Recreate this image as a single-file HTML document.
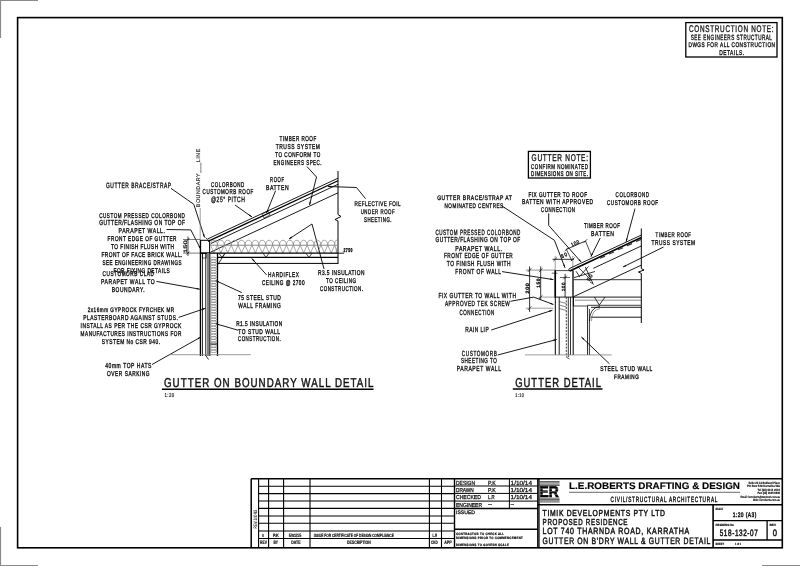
<!DOCTYPE html>
<html><head><meta charset="utf-8"><style>
html,body{margin:0;padding:0;background:#fff;width:800px;height:566px;overflow:hidden;}
svg{display:block;filter:grayscale(1);text-rendering:geometricPrecision;font-family:"Liberation Sans",sans-serif;}
</style></head><body>
<svg width="800" height="566" viewBox="0 0 800 566" stroke-linecap="butt">
<line x1="0.00" y1="0.50" x2="38.00" y2="0.50" stroke="#8a8a8a" stroke-width="1.2"/>
<line x1="0.50" y1="0.00" x2="0.50" y2="38.00" stroke="#8a8a8a" stroke-width="1.2"/>
<line x1="0.50" y1="527.00" x2="0.50" y2="566.00" stroke="#8a8a8a" stroke-width="1.2"/>
<line x1="0.00" y1="565.50" x2="38.00" y2="565.50" stroke="#8a8a8a" stroke-width="1.2"/>
<line x1="762.00" y1="565.50" x2="800.00" y2="565.50" stroke="#8a8a8a" stroke-width="1.2"/>
<rect x="17.60" y="17.60" width="764.70" height="530.20" stroke="#000" stroke-width="1.6" fill="none"/>
<rect x="685.80" y="22.60" width="91.20" height="34.40" stroke="#000" stroke-width="1.3" fill="none"/>
<text transform="translate(689.00,31.50) scale(0.15952,0.24092)" x="0" y="0" font-size="40.0" font-weight="normal" fill="#1a1a1a" stroke="#1a1a1a" stroke-width="1.660" textLength="529.71" lengthAdjust="spacing" font-family="Liberation Sans">CONSTRUCTION NOTE:</text>
<text transform="translate(690.70,39.70) scale(0.11509,0.18855)" x="0" y="0" font-size="40.0" font-weight="normal" fill="#1a1a1a" stroke="#1a1a1a" stroke-width="2.121" textLength="705.56" lengthAdjust="spacing" font-family="Liberation Sans">SEE ENGINEERS STRUCTURAL</text>
<text transform="translate(688.50,47.30) scale(0.11773,0.16760)" x="0" y="0" font-size="40.0" font-weight="normal" fill="#1a1a1a" stroke="#1a1a1a" stroke-width="2.387" textLength="734.76" lengthAdjust="spacing" font-family="Liberation Sans">DWGS FOR ALL CONSTRUCTION</text>
<text transform="translate(719.20,55.00) scale(0.12197,0.17458)" x="0" y="0" font-size="40.0" font-weight="normal" fill="#1a1a1a" stroke="#1a1a1a" stroke-width="2.291" textLength="203.33" lengthAdjust="spacing" font-family="Liberation Sans">DETAILS.</text>
<line x1="251.20" y1="478.80" x2="782.50" y2="478.80" stroke="#000" stroke-width="1.5"/>
<line x1="251.20" y1="478.80" x2="251.20" y2="547.80" stroke="#000" stroke-width="1.5"/>
<line x1="258.60" y1="478.80" x2="258.60" y2="547.80" stroke="#000" stroke-width="1.1"/>
<line x1="268.60" y1="478.80" x2="268.60" y2="547.80" stroke="#000" stroke-width="1.1"/>
<line x1="283.60" y1="478.80" x2="283.60" y2="547.80" stroke="#000" stroke-width="1.1"/>
<line x1="310.00" y1="478.80" x2="310.00" y2="547.80" stroke="#000" stroke-width="1.1"/>
<line x1="429.40" y1="478.80" x2="429.40" y2="547.80" stroke="#000" stroke-width="1.1"/>
<line x1="441.50" y1="478.80" x2="441.50" y2="547.80" stroke="#000" stroke-width="1.1"/>
<line x1="454.50" y1="478.80" x2="454.50" y2="547.80" stroke="#000" stroke-width="1.4"/>
<line x1="258.60" y1="486.20" x2="454.50" y2="486.20" stroke="#000" stroke-width="1.1"/>
<line x1="258.60" y1="493.60" x2="454.50" y2="493.60" stroke="#000" stroke-width="1.1"/>
<line x1="258.60" y1="501.00" x2="454.50" y2="501.00" stroke="#000" stroke-width="1.1"/>
<line x1="258.60" y1="508.40" x2="454.50" y2="508.40" stroke="#000" stroke-width="1.1"/>
<line x1="258.60" y1="516.00" x2="454.50" y2="516.00" stroke="#000" stroke-width="1.1"/>
<line x1="258.60" y1="523.30" x2="454.50" y2="523.30" stroke="#000" stroke-width="1.1"/>
<line x1="258.60" y1="531.00" x2="454.50" y2="531.00" stroke="#000" stroke-width="1.1"/>
<line x1="258.60" y1="538.50" x2="454.50" y2="538.50" stroke="#000" stroke-width="1.1"/>
<text transform="translate(256.80,528.60) rotate(-90) scale(0.07422,0.12221)" x="0" y="0" font-size="40.0" font-weight="normal" fill="#333" stroke="#333" stroke-width="1.637" textLength="253.29" lengthAdjust="spacing" font-family="Liberation Sans">REVISIONS</text>
<text transform="translate(261.90,536.90) scale(0.07642,0.11522)" x="0" y="0" font-size="40.0" font-weight="bold" fill="#000" stroke="#000" stroke-width="1.302" textLength="22.25" lengthAdjust="spacing" font-family="Liberation Sans">0</text>
<text transform="translate(273.00,536.90) scale(0.09427,0.11522)" x="0" y="0" font-size="40.0" font-weight="bold" fill="#000" stroke="#000" stroke-width="1.302" textLength="61.52" lengthAdjust="spacing" font-family="Liberation Sans">P.K</text>
<text transform="translate(288.80,536.90) scale(0.09291,0.11522)" x="0" y="0" font-size="40.0" font-weight="bold" fill="#000" stroke="#000" stroke-width="1.302" textLength="133.46" lengthAdjust="spacing" font-family="Liberation Sans">5/01/15</text>
<text transform="translate(313.80,536.90) scale(0.08006,0.11522)" x="0" y="0" font-size="40.0" font-weight="bold" fill="#000" stroke="#000" stroke-width="1.302" textLength="999.30" lengthAdjust="spacing" font-family="Liberation Sans">ISSUE FOR CERTIFICATE OF DESIGN COMPLIANCE</text>
<text transform="translate(432.40,536.90) scale(0.07139,0.11522)" x="0" y="0" font-size="40.0" font-weight="bold" fill="#000" stroke="#000" stroke-width="1.302" textLength="64.43" lengthAdjust="spacing" font-family="Liberation Sans">L.R</text>
<text transform="translate(260.00,544.20) scale(0.08389,0.12570)" x="0" y="0" font-size="40.0" font-weight="bold" fill="#000" stroke="#000" stroke-width="1.193" textLength="82.25" lengthAdjust="spacing" font-family="Liberation Sans">REV</text>
<text transform="translate(273.50,544.20) scale(0.08098,0.12570)" x="0" y="0" font-size="40.0" font-weight="bold" fill="#000" stroke="#000" stroke-width="1.193" textLength="55.57" lengthAdjust="spacing" font-family="Liberation Sans">BY</text>
<text transform="translate(291.20,544.20) scale(0.08875,0.12570)" x="0" y="0" font-size="40.0" font-weight="bold" fill="#000" stroke="#000" stroke-width="1.193" textLength="105.92" lengthAdjust="spacing" font-family="Liberation Sans">DATE</text>
<text transform="translate(347.00,544.20) scale(0.08670,0.12570)" x="0" y="0" font-size="40.0" font-weight="bold" fill="#000" stroke="#000" stroke-width="1.193" textLength="273.36" lengthAdjust="spacing" font-family="Liberation Sans">DESCRIPTION</text>
<text transform="translate(431.00,544.20) scale(0.07731,0.12570)" x="0" y="0" font-size="40.0" font-weight="bold" fill="#000" stroke="#000" stroke-width="1.193" textLength="86.66" lengthAdjust="spacing" font-family="Liberation Sans">CKD</text>
<text transform="translate(444.20,544.20) scale(0.08997,0.12570)" x="0" y="0" font-size="40.0" font-weight="bold" fill="#000" stroke="#000" stroke-width="1.193" textLength="82.25" lengthAdjust="spacing" font-family="Liberation Sans">APP</text>
<line x1="454.50" y1="486.00" x2="537.90" y2="486.00" stroke="#000" stroke-width="1.0"/>
<line x1="454.50" y1="493.40" x2="537.90" y2="493.40" stroke="#000" stroke-width="1.0"/>
<line x1="454.50" y1="501.10" x2="537.90" y2="501.10" stroke="#000" stroke-width="1.0"/>
<line x1="454.50" y1="508.50" x2="537.90" y2="508.50" stroke="#000" stroke-width="1.4"/>
<line x1="454.50" y1="529.30" x2="537.90" y2="529.30" stroke="#000" stroke-width="1.4"/>
<line x1="509.40" y1="478.80" x2="509.40" y2="508.50" stroke="#000" stroke-width="1.0"/>
<line x1="537.90" y1="478.80" x2="537.90" y2="547.80" stroke="#000" stroke-width="1.6"/>
<line x1="539.20" y1="478.80" x2="539.20" y2="547.80" stroke="#000" stroke-width="0.9"/>
<text transform="translate(456.00,484.50) scale(0.12389,0.14665)" x="0" y="0" font-size="40.0" font-weight="normal" fill="#222" stroke="#222" stroke-width="2.046" textLength="153.36" lengthAdjust="spacing" font-family="Liberation Sans">DESIGN</text>
<text transform="translate(456.00,491.70) scale(0.11898,0.14316)" x="0" y="0" font-size="40.0" font-weight="normal" fill="#222" stroke="#222" stroke-width="2.096" textLength="149.61" lengthAdjust="spacing" font-family="Liberation Sans">DRAWN</text>
<text transform="translate(456.00,499.30) scale(0.12731,0.14316)" x="0" y="0" font-size="40.0" font-weight="normal" fill="#222" stroke="#222" stroke-width="2.096" textLength="195.59" lengthAdjust="spacing" font-family="Liberation Sans">CHECKED</text>
<text transform="translate(456.00,506.50) scale(0.12445,0.14316)" x="0" y="0" font-size="40.0" font-weight="normal" fill="#222" stroke="#222" stroke-width="2.096" textLength="208.93" lengthAdjust="spacing" font-family="Liberation Sans">ENGINEER</text>
<text transform="translate(488.00,484.50) scale(0.12981,0.14665)" x="0" y="0" font-size="40.0" font-weight="normal" fill="#222" stroke="#222" stroke-width="2.046" textLength="59.32" lengthAdjust="spacing" font-family="Liberation Sans">P.K</text>
<text transform="translate(488.00,491.70) scale(0.12981,0.14316)" x="0" y="0" font-size="40.0" font-weight="normal" fill="#222" stroke="#222" stroke-width="2.096" textLength="59.32" lengthAdjust="spacing" font-family="Liberation Sans">P.K</text>
<text transform="translate(488.00,499.30) scale(0.10764,0.14316)" x="0" y="0" font-size="40.0" font-weight="normal" fill="#222" stroke="#222" stroke-width="2.096" textLength="62.25" lengthAdjust="spacing" font-family="Liberation Sans">L.R</text>
<line x1="488.00" y1="504.50" x2="492.00" y2="504.50" stroke="#333" stroke-width="0.8"/>
<text transform="translate(510.60,484.50) scale(0.16035,0.14665)" x="0" y="0" font-size="40.0" font-weight="normal" fill="#222" stroke="#222" stroke-width="2.046" textLength="133.46" lengthAdjust="spacing" font-family="Liberation Sans">1/10/14</text>
<text transform="translate(510.60,491.70) scale(0.16035,0.14316)" x="0" y="0" font-size="40.0" font-weight="normal" fill="#222" stroke="#222" stroke-width="2.096" textLength="133.46" lengthAdjust="spacing" font-family="Liberation Sans">1/10/14</text>
<text transform="translate(510.60,499.30) scale(0.16035,0.14316)" x="0" y="0" font-size="40.0" font-weight="normal" fill="#222" stroke="#222" stroke-width="2.096" textLength="133.46" lengthAdjust="spacing" font-family="Liberation Sans">1/10/14</text>
<line x1="510.60" y1="504.50" x2="514.00" y2="504.50" stroke="#333" stroke-width="0.8"/>
<text transform="translate(456.00,513.90) scale(0.12758,0.12570)" x="0" y="0" font-size="40.0" font-weight="normal" fill="#222" stroke="#222" stroke-width="2.387" textLength="148.93" lengthAdjust="spacing" font-family="Liberation Sans">ISSUED</text>
<text transform="translate(456.00,534.70) scale(0.06992,0.08380)" x="0" y="0" font-size="40.0" font-weight="bold" fill="#000" stroke="#000" stroke-width="2.387" textLength="686.46" lengthAdjust="spacing" font-family="Liberation Sans">CONTRACTOR TO CHECK ALL</text>
<text transform="translate(456.00,538.50) scale(0.07001,0.08380)" x="0" y="0" font-size="40.0" font-weight="bold" fill="#000" stroke="#000" stroke-width="2.387" textLength="952.68" lengthAdjust="spacing" font-family="Liberation Sans">DIMENSIONS PRIOR TO COMMENCEMENT</text>
<text transform="translate(456.00,545.60) scale(0.06981,0.08380)" x="0" y="0" font-size="40.0" font-weight="bold" fill="#000" stroke="#000" stroke-width="2.387" textLength="756.34" lengthAdjust="spacing" font-family="Liberation Sans">DIMENSIONS TO GOVERN SCALE</text>
<line x1="539.50" y1="481.50" x2="559.60" y2="481.50" stroke="#222" stroke-width="0.7"/>
<line x1="539.50" y1="482.80" x2="559.60" y2="482.80" stroke="#222" stroke-width="0.7"/>
<line x1="539.50" y1="484.20" x2="559.60" y2="484.20" stroke="#222" stroke-width="0.7"/>
<line x1="539.50" y1="485.50" x2="559.60" y2="485.50" stroke="#222" stroke-width="0.7"/>
<line x1="539.50" y1="498.20" x2="559.60" y2="498.20" stroke="#222" stroke-width="0.7"/>
<line x1="539.50" y1="499.50" x2="559.60" y2="499.50" stroke="#222" stroke-width="0.7"/>
<line x1="539.50" y1="500.80" x2="559.60" y2="500.80" stroke="#222" stroke-width="0.7"/>
<line x1="539.50" y1="502.00" x2="559.60" y2="502.00" stroke="#222" stroke-width="0.7"/>
<text transform="translate(539.60,497.30) scale(0.34553,0.38408)" x="0" y="0" font-size="40.0" font-weight="bold" fill="#000" stroke="#000" stroke-width="1.823" textLength="55.57" lengthAdjust="spacing" font-family="Liberation Sans">ER</text>
<line x1="539.50" y1="489.00" x2="559.60" y2="489.00" stroke="#fff" stroke-width="0.35"/>
<line x1="539.50" y1="491.70" x2="559.60" y2="491.70" stroke="#fff" stroke-width="0.35"/>
<line x1="539.50" y1="494.40" x2="559.60" y2="494.40" stroke="#fff" stroke-width="0.35"/>
<text transform="translate(569.00,488.80) scale(0.24742,0.24092)" x="0" y="0" font-size="40.0" font-weight="bold" fill="#000" stroke="#000" stroke-width="0.623" textLength="691.13" lengthAdjust="spacing" font-family="Liberation Sans">L.E.ROBERTS DRAFTING &amp; DESIGN</text>
<line x1="569.00" y1="492.30" x2="740.00" y2="492.30" stroke="#444" stroke-width="0.8"/>
<text transform="translate(610.60,501.60) scale(0.11816,0.18855)" x="0" y="0" font-size="40.0" font-weight="normal" fill="#1a1a1a" stroke="#1a1a1a" stroke-width="2.387" textLength="903.84" lengthAdjust="spacing" font-family="Liberation Sans">CIVIL/STRUCTURAL ARCHITECTURAL</text>
<text transform="translate(748.40,483.70) scale(0.06374,0.08031)" x="0" y="0" font-size="40.0" font-weight="bold" fill="#000" stroke="#000" stroke-width="1.494" textLength="495.74" lengthAdjust="spacing" font-family="Liberation Sans">Suite 2b 13 Redland Place</text>
<text transform="translate(747.00,487.10) scale(0.06969,0.08031)" x="0" y="0" font-size="40.0" font-weight="bold" fill="#000" stroke="#000" stroke-width="1.494" textLength="473.50" lengthAdjust="spacing" font-family="Liberation Sans">PO Box 528 Karratha WA</text>
<text transform="translate(757.50,490.70) scale(0.06671,0.08031)" x="0" y="0" font-size="40.0" font-weight="bold" fill="#000" stroke="#000" stroke-width="1.494" textLength="337.27" lengthAdjust="spacing" font-family="Liberation Sans">Tel (08) 9144 2004</text>
<text transform="translate(757.50,494.10) scale(0.06404,0.08031)" x="0" y="0" font-size="40.0" font-weight="bold" fill="#000" stroke="#000" stroke-width="1.494" textLength="351.37" lengthAdjust="spacing" font-family="Liberation Sans">Fax (08) 9185 6896</text>
<text transform="translate(740.50,497.70) scale(0.06012,0.08031)" x="0" y="0" font-size="40.0" font-weight="bold" fill="#000" stroke="#000" stroke-width="1.494" textLength="656.97" lengthAdjust="spacing" font-family="Liberation Sans">Email: lerroberts@westnet.com.au</text>
<text transform="translate(753.00,501.40) scale(0.06053,0.08031)" x="0" y="0" font-size="40.0" font-weight="bold" fill="#000" stroke="#000" stroke-width="1.494" textLength="446.04" lengthAdjust="spacing" font-family="Liberation Sans">Web: lerroberts.com.au</text>
<line x1="537.90" y1="504.70" x2="782.50" y2="504.70" stroke="#000" stroke-width="1.5"/>
<text transform="translate(542.60,515.80) scale(0.17002,0.21648)" x="0" y="0" font-size="40.0" font-weight="normal" fill="#111" stroke="#111" stroke-width="2.079" textLength="719.35" lengthAdjust="spacing" font-family="Liberation Sans">TIMIK DEVELOPMENTS PTY LTD</text>
<text transform="translate(542.60,524.80) scale(0.15495,0.21648)" x="0" y="0" font-size="40.0" font-weight="normal" fill="#111" stroke="#111" stroke-width="2.079" textLength="547.92" lengthAdjust="spacing" font-family="Liberation Sans">PROPOSED RESIDENCE</text>
<text transform="translate(542.60,534.00) scale(0.17506,0.22346)" x="0" y="0" font-size="40.0" font-weight="normal" fill="#111" stroke="#111" stroke-width="2.014" textLength="837.44" lengthAdjust="spacing" font-family="Liberation Sans">LOT 740 THARNDA ROAD, KARRATHA</text>
<text transform="translate(542.60,543.80) scale(0.17127,0.23045)" x="0" y="0" font-size="40.0" font-weight="normal" fill="#111" stroke="#111" stroke-width="1.953" textLength="979.75" lengthAdjust="spacing" font-family="Liberation Sans">GUTTER ON B'DRY WALL &amp; GUTTER DETAIL</text>
<line x1="713.10" y1="504.70" x2="713.10" y2="547.80" stroke="#000" stroke-width="1.6"/>
<line x1="713.10" y1="520.60" x2="782.50" y2="520.60" stroke="#000" stroke-width="1.4"/>
<line x1="713.10" y1="540.00" x2="782.50" y2="540.00" stroke="#000" stroke-width="1.4"/>
<line x1="767.10" y1="520.60" x2="767.10" y2="540.00" stroke="#000" stroke-width="1.3"/>
<text transform="translate(715.50,509.80) scale(0.05532,0.08031)" x="0" y="0" font-size="40.0" font-weight="bold" fill="#000" stroke="#000" stroke-width="1.868" textLength="135.57" lengthAdjust="spacing" font-family="Liberation Sans">SCALE</text>
<text transform="translate(732.80,516.90) scale(0.12283,0.16411)" x="0" y="0" font-size="40.0" font-weight="normal" fill="#111" stroke="#111" stroke-width="2.742" textLength="191.32" lengthAdjust="spacing" font-family="Liberation Sans">1:20 (A3)</text>
<text transform="translate(715.50,525.50) scale(0.07177,0.08031)" x="0" y="0" font-size="40.0" font-weight="bold" fill="#000" stroke="#000" stroke-width="1.868" textLength="257.75" lengthAdjust="spacing" font-family="Liberation Sans">DRAWING No</text>
<text transform="translate(719.70,535.60) scale(0.16014,0.23045)" x="0" y="0" font-size="40.0" font-weight="normal" fill="#111" stroke="#111" stroke-width="2.170" textLength="237.92" lengthAdjust="spacing" font-family="Liberation Sans">518-132-07</text>
<text transform="translate(769.50,525.50) scale(0.07903,0.08031)" x="0" y="0" font-size="40.0" font-weight="bold" fill="#000" stroke="#000" stroke-width="1.868" textLength="82.25" lengthAdjust="spacing" font-family="Liberation Sans">REV</text>
<text transform="translate(772.80,535.60) scale(0.18880,0.23045)" x="0" y="0" font-size="40.0" font-weight="normal" fill="#111" stroke="#111" stroke-width="2.170" textLength="22.25" lengthAdjust="spacing" font-family="Liberation Sans">0</text>
<text transform="translate(715.50,544.90) scale(0.06374,0.08031)" x="0" y="0" font-size="40.0" font-weight="bold" fill="#000" stroke="#000" stroke-width="1.868" textLength="133.36" lengthAdjust="spacing" font-family="Liberation Sans">SHEET</text>
<text transform="translate(735.00,544.90) scale(0.05743,0.08031)" x="0" y="0" font-size="40.0" font-weight="bold" fill="#000" stroke="#000" stroke-width="1.868" textLength="104.47" lengthAdjust="spacing" font-family="Liberation Sans">1 of 1</text>
<text transform="translate(164.00,387.20) scale(0.24441,0.32123)" x="0" y="0" font-size="40.0" font-weight="normal" fill="#111" stroke="#111" stroke-width="1.401" textLength="857.18" lengthAdjust="spacing" font-family="Liberation Sans">GUTTER ON BOUNDARY WALL DETAIL</text>
<line x1="161.90" y1="389.30" x2="373.50" y2="389.30" stroke="#000" stroke-width="1.5"/>
<text transform="translate(164.40,396.80) scale(0.10936,0.14316)" x="0" y="0" font-size="40.0" font-weight="normal" fill="#222" stroke="#222" stroke-width="1.397" textLength="90.53" lengthAdjust="spacing" font-family="Liberation Sans">1:20</text>
<text transform="translate(515.20,387.30) scale(0.23603,0.32472)" x="0" y="0" font-size="40.0" font-weight="normal" fill="#111" stroke="#111" stroke-width="1.386" textLength="363.51" lengthAdjust="spacing" font-family="Liberation Sans">GUTTER DETAIL</text>
<line x1="512.80" y1="389.10" x2="602.50" y2="389.10" stroke="#000" stroke-width="1.5"/>
<text transform="translate(515.20,396.80) scale(0.09500,0.13268)" x="0" y="0" font-size="40.0" font-weight="normal" fill="#222" stroke="#222" stroke-width="1.507" textLength="90.53" lengthAdjust="spacing" font-family="Liberation Sans">1:10</text>
<text transform="translate(279.40,141.00) scale(0.11393,0.17807)" x="0" y="0" font-size="40.0" font-weight="normal" fill="#1a1a1a" stroke="#1a1a1a" stroke-width="2.246" textLength="322.99" lengthAdjust="spacing" font-family="Liberation Sans">TIMBER ROOF</text>
<text transform="translate(275.70,148.90) scale(0.12216,0.17807)" x="0" y="0" font-size="40.0" font-weight="normal" fill="#1a1a1a" stroke="#1a1a1a" stroke-width="2.246" textLength="361.81" lengthAdjust="spacing" font-family="Liberation Sans">TRUSS SYSTEM</text>
<text transform="translate(275.20,156.60) scale(0.11457,0.17458)" x="0" y="0" font-size="40.0" font-weight="normal" fill="#1a1a1a" stroke="#1a1a1a" stroke-width="2.291" textLength="392.78" lengthAdjust="spacing" font-family="Liberation Sans">TO CONFORM TO</text>
<text transform="translate(273.50,164.60) scale(0.11279,0.17807)" x="0" y="0" font-size="40.0" font-weight="normal" fill="#1a1a1a" stroke="#1a1a1a" stroke-width="2.246" textLength="426.47" lengthAdjust="spacing" font-family="Liberation Sans">ENGINEERS SPEC.</text>
<text transform="translate(270.00,182.00) scale(0.10494,0.17807)" x="0" y="0" font-size="40.0" font-weight="normal" fill="#1a1a1a" stroke="#1a1a1a" stroke-width="2.246" textLength="134.36" lengthAdjust="spacing" font-family="Liberation Sans">ROOF</text>
<text transform="translate(265.90,189.60) scale(0.12665,0.17807)" x="0" y="0" font-size="40.0" font-weight="normal" fill="#1a1a1a" stroke="#1a1a1a" stroke-width="2.246" textLength="180.03" lengthAdjust="spacing" font-family="Liberation Sans">BATTEN</text>
<text transform="translate(211.00,186.50) scale(0.11108,0.17458)" x="0" y="0" font-size="40.0" font-weight="normal" fill="#1a1a1a" stroke="#1a1a1a" stroke-width="2.291" textLength="299.78" lengthAdjust="spacing" font-family="Liberation Sans">COLORBOND</text>
<text transform="translate(202.60,194.10) scale(0.11275,0.17807)" x="0" y="0" font-size="40.0" font-weight="normal" fill="#1a1a1a" stroke="#1a1a1a" stroke-width="2.246" textLength="448.77" lengthAdjust="spacing" font-family="Liberation Sans">CUSTOMORB ROOF</text>
<text transform="translate(211.00,202.20) scale(0.12518,0.19204)" x="0" y="0" font-size="40.0" font-weight="normal" fill="#1a1a1a" stroke="#1a1a1a" stroke-width="2.083" textLength="270.01" lengthAdjust="spacing" font-family="Liberation Sans">@25° PITCH</text>
<text transform="translate(106.00,188.40) scale(0.12210,0.18855)" x="0" y="0" font-size="40.0" font-weight="normal" fill="#1a1a1a" stroke="#1a1a1a" stroke-width="2.121" textLength="532.37" lengthAdjust="spacing" font-family="Liberation Sans">GUTTER BRACE/STRAP</text>
<text transform="translate(199.60,207.20) rotate(-90) scale(0.13160,0.13617)" x="0" y="0" font-size="40.0" font-weight="normal" fill="#333" stroke="#333" stroke-width="1.469" textLength="443.77" lengthAdjust="spacing" font-family="Liberation Sans">BOUNDARY___LINE</text>
<text transform="translate(354.60,205.50) scale(0.11384,0.16760)" x="0" y="0" font-size="40.0" font-weight="normal" fill="#1a1a1a" stroke="#1a1a1a" stroke-width="2.387" textLength="403.19" lengthAdjust="spacing" font-family="Liberation Sans">REFLECTIVE FOIL</text>
<text transform="translate(360.70,214.00) scale(0.10842,0.16760)" x="0" y="0" font-size="40.0" font-weight="normal" fill="#1a1a1a" stroke="#1a1a1a" stroke-width="2.387" textLength="312.66" lengthAdjust="spacing" font-family="Liberation Sans">UNDER ROOF</text>
<text transform="translate(364.00,221.50) scale(0.10970,0.17109)" x="0" y="0" font-size="40.0" font-weight="normal" fill="#1a1a1a" stroke="#1a1a1a" stroke-width="2.338" textLength="250.68" lengthAdjust="spacing" font-family="Liberation Sans">SHEETING.</text>
<text transform="translate(99.20,217.60) scale(0.11448,0.17458)" x="0" y="0" font-size="40.0" font-weight="normal" fill="#1a1a1a" stroke="#1a1a1a" stroke-width="2.291" textLength="748.62" lengthAdjust="spacing" font-family="Liberation Sans">CUSTOM PRESSED COLORBOND</text>
<text transform="translate(99.20,225.20) scale(0.12192,0.18156)" x="0" y="0" font-size="40.0" font-weight="normal" fill="#1a1a1a" stroke="#1a1a1a" stroke-width="2.203" textLength="702.95" lengthAdjust="spacing" font-family="Liberation Sans">GUTTER/FLASHING ON TOP OF</text>
<text transform="translate(118.60,233.20) scale(0.12706,0.17458)" x="0" y="0" font-size="40.0" font-weight="normal" fill="#1a1a1a" stroke="#1a1a1a" stroke-width="2.291" textLength="363.60" lengthAdjust="spacing" font-family="Liberation Sans">PARAPET WALL.</text>
<text transform="translate(107.60,241.00) scale(0.11763,0.17458)" x="0" y="0" font-size="40.0" font-weight="normal" fill="#1a1a1a" stroke="#1a1a1a" stroke-width="2.291" textLength="585.71" lengthAdjust="spacing" font-family="Liberation Sans">FRONT EDGE OF GUTTER</text>
<text transform="translate(111.00,249.00) scale(0.11971,0.17458)" x="0" y="0" font-size="40.0" font-weight="normal" fill="#1a1a1a" stroke="#1a1a1a" stroke-width="2.291" textLength="526.28" lengthAdjust="spacing" font-family="Liberation Sans">TO FINISH FLUSH WITH</text>
<text transform="translate(101.40,257.00) scale(0.11963,0.17458)" x="0" y="0" font-size="40.0" font-weight="normal" fill="#1a1a1a" stroke="#1a1a1a" stroke-width="2.291" textLength="677.10" lengthAdjust="spacing" font-family="Liberation Sans">FRONT OF FACE BRICK WALL.</text>
<text transform="translate(102.60,265.00) scale(0.11308,0.17458)" x="0" y="0" font-size="40.0" font-weight="normal" fill="#1a1a1a" stroke="#1a1a1a" stroke-width="2.291" textLength="698.63" lengthAdjust="spacing" font-family="Liberation Sans">SEE ENGINEERING DRAWINGS</text>
<text transform="translate(113.50,272.70) scale(0.11992,0.17458)" x="0" y="0" font-size="40.0" font-weight="normal" fill="#1a1a1a" stroke="#1a1a1a" stroke-width="2.291" textLength="469.48" lengthAdjust="spacing" font-family="Liberation Sans">FOR FIXING DETAILS</text>
<text transform="translate(102.60,276.00) scale(0.11700,0.17458)" x="0" y="0" font-size="40.0" font-weight="normal" fill="#1a1a1a" stroke="#1a1a1a" stroke-width="2.291" textLength="438.48" lengthAdjust="spacing" font-family="Liberation Sans">CUSTOMORB CLAD</text>
<text transform="translate(101.00,284.00) scale(0.12642,0.17458)" x="0" y="0" font-size="40.0" font-weight="normal" fill="#1a1a1a" stroke="#1a1a1a" stroke-width="2.291" textLength="424.78" lengthAdjust="spacing" font-family="Liberation Sans">PARAPET WALL TO</text>
<text transform="translate(111.80,291.50) scale(0.12162,0.17458)" x="0" y="0" font-size="40.0" font-weight="normal" fill="#1a1a1a" stroke="#1a1a1a" stroke-width="2.291" textLength="269.69" lengthAdjust="spacing" font-family="Liberation Sans">BOUNDARY.</text>
<text transform="translate(268.00,277.00) scale(0.11799,0.17458)" x="0" y="0" font-size="40.0" font-weight="normal" fill="#1a1a1a" stroke="#1a1a1a" stroke-width="2.291" textLength="261.04" lengthAdjust="spacing" font-family="Liberation Sans">HARDIFLEX</text>
<text transform="translate(262.00,284.80) scale(0.11720,0.17109)" x="0" y="0" font-size="40.0" font-weight="normal" fill="#1a1a1a" stroke="#1a1a1a" stroke-width="2.338" textLength="362.62" lengthAdjust="spacing" font-family="Liberation Sans">CEILING @ 2700</text>
<text transform="translate(318.00,275.00) scale(0.11995,0.17458)" x="0" y="0" font-size="40.0" font-weight="normal" fill="#1a1a1a" stroke="#1a1a1a" stroke-width="2.291" textLength="386.83" lengthAdjust="spacing" font-family="Liberation Sans">R3.5 INSULATION</text>
<text transform="translate(326.00,283.00) scale(0.11417,0.17458)" x="0" y="0" font-size="40.0" font-weight="normal" fill="#1a1a1a" stroke="#1a1a1a" stroke-width="2.291" textLength="262.76" lengthAdjust="spacing" font-family="Liberation Sans">TO CEILING</text>
<text transform="translate(320.00,291.40) scale(0.11094,0.17458)" x="0" y="0" font-size="40.0" font-weight="normal" fill="#1a1a1a" stroke="#1a1a1a" stroke-width="2.291" textLength="387.58" lengthAdjust="spacing" font-family="Liberation Sans">CONSTRUCTION.</text>
<text transform="translate(238.00,299.70) scale(0.12206,0.17458)" x="0" y="0" font-size="40.0" font-weight="normal" fill="#1a1a1a" stroke="#1a1a1a" stroke-width="2.291" textLength="349.82" lengthAdjust="spacing" font-family="Liberation Sans">75 STEEL STUD</text>
<text transform="translate(238.30,307.70) scale(0.12094,0.18156)" x="0" y="0" font-size="40.0" font-weight="normal" fill="#1a1a1a" stroke="#1a1a1a" stroke-width="2.203" textLength="350.59" lengthAdjust="spacing" font-family="Liberation Sans">WALL FRAMING</text>
<text transform="translate(236.20,325.80) scale(0.11866,0.17109)" x="0" y="0" font-size="40.0" font-weight="normal" fill="#1a1a1a" stroke="#1a1a1a" stroke-width="2.338" textLength="386.83" lengthAdjust="spacing" font-family="Liberation Sans">R1.5 INSULATION</text>
<text transform="translate(238.30,333.60) scale(0.12224,0.17109)" x="0" y="0" font-size="40.0" font-weight="normal" fill="#1a1a1a" stroke="#1a1a1a" stroke-width="2.338" textLength="341.14" lengthAdjust="spacing" font-family="Liberation Sans">TO STUD WALL</text>
<text transform="translate(238.00,341.40) scale(0.11017,0.17458)" x="0" y="0" font-size="40.0" font-weight="normal" fill="#1a1a1a" stroke="#1a1a1a" stroke-width="2.291" textLength="387.58" lengthAdjust="spacing" font-family="Liberation Sans">CONSTRUCTION.</text>
<text transform="translate(87.70,311.50) scale(0.11622,0.16411)" x="0" y="0" font-size="40.0" font-weight="normal" fill="#1a1a1a" stroke="#1a1a1a" stroke-width="2.437" textLength="744.30" lengthAdjust="spacing" font-family="Liberation Sans">2x16mm GYPROCK FYRCHEK MR</text>
<text transform="translate(83.20,320.00) scale(0.12214,0.17458)" x="0" y="0" font-size="40.0" font-weight="normal" fill="#1a1a1a" stroke="#1a1a1a" stroke-width="2.291" textLength="774.53" lengthAdjust="spacing" font-family="Liberation Sans">PLASTERBOARD AGAINST STUDS.</text>
<text transform="translate(80.60,328.00) scale(0.12188,0.17458)" x="0" y="0" font-size="40.0" font-weight="normal" fill="#1a1a1a" stroke="#1a1a1a" stroke-width="2.291" textLength="826.24" lengthAdjust="spacing" font-family="Liberation Sans">INSTALL AS PER THE CSR GYPROCK</text>
<text transform="translate(80.60,336.00) scale(0.11738,0.17458)" x="0" y="0" font-size="40.0" font-weight="normal" fill="#1a1a1a" stroke="#1a1a1a" stroke-width="2.291" textLength="857.90" lengthAdjust="spacing" font-family="Liberation Sans">MANUFACTURES INSTRUCTIONS FOR</text>
<text transform="translate(101.80,344.00) scale(0.12171,0.17458)" x="0" y="0" font-size="40.0" font-weight="normal" fill="#1a1a1a" stroke="#1a1a1a" stroke-width="2.291" textLength="478.20" lengthAdjust="spacing" font-family="Liberation Sans">SYSTEM No CSR 940.</text>
<text transform="translate(105.30,368.00) scale(0.12474,0.18156)" x="0" y="0" font-size="40.0" font-weight="normal" fill="#1a1a1a" stroke="#1a1a1a" stroke-width="2.203" textLength="368.76" lengthAdjust="spacing" font-family="Liberation Sans">40mm TOP HATS</text>
<text transform="translate(107.00,375.50) scale(0.12003,0.17807)" x="0" y="0" font-size="40.0" font-weight="normal" fill="#1a1a1a" stroke="#1a1a1a" stroke-width="2.246" textLength="354.09" lengthAdjust="spacing" font-family="Liberation Sans">OVER SARKING</text>
<text transform="translate(343.50,252.20) scale(0.08698,0.13966)" x="0" y="0" font-size="40.0" font-weight="bold" fill="#000" stroke="#000" stroke-width="2.506" textLength="103.47" lengthAdjust="spacing" font-family="Liberation Sans">2750</text>
<line x1="338.00" y1="253.20" x2="344.00" y2="253.20" stroke="#000" stroke-width="0.9"/>
<path d="M307.00,166.60 L316.50,177.00 L309.50,205.00" stroke="#000" stroke-width="0.9" fill="none"/>
<path d="M309.50,205.00 L309.55,201.71 L311.00,202.08 Z" fill="#000" stroke="none"/>
<path d="M275.50,190.80 L266.50,213.00" stroke="#000" stroke-width="0.9" fill="none"/>
<path d="M266.50,213.00 L267.01,209.75 L268.40,210.32 Z" fill="#000" stroke="none"/>
<path d="M235.00,205.00 L252.00,217.00" stroke="#000" stroke-width="0.9" fill="none"/>
<path d="M252.00,217.00 L248.95,215.77 L249.82,214.54 Z" fill="#000" stroke="none"/>
<path d="M365.50,198.60 L356.50,187.50 L328.00,186.50" stroke="#000" stroke-width="0.9" fill="none"/>
<path d="M328.00,186.50 L331.22,185.86 L331.17,187.36 Z" fill="#000" stroke="none"/>
<path d="M171.00,188.40 L193.80,204.30 L204.50,237.40" stroke="#000" stroke-width="0.9" fill="none"/>
<path d="M204.50,237.40 L202.80,234.59 L204.23,234.12 Z" fill="#000" stroke="none"/>
<path d="M166.50,229.50 L190.80,229.90 L200.60,249.00" stroke="#000" stroke-width="0.9" fill="none"/>
<path d="M200.60,249.00 L198.47,246.50 L199.81,245.81 Z" fill="#000" stroke="none"/>
<path d="M324.00,269.00 L312.00,224.00 L289.00,239.00" stroke="#000" stroke-width="0.9" fill="none"/>
<path d="M289.00,239.00 L291.27,236.62 L292.09,237.88 Z" fill="#000" stroke="none"/>
<path d="M266.60,274.90 L251.80,258.50" stroke="#000" stroke-width="0.9" fill="none"/>
<path d="M251.80,258.50 L254.50,260.37 L253.39,261.38 Z" fill="#000" stroke="none"/>
<path d="M241.80,292.60 L215.70,280.60" stroke="#000" stroke-width="0.9" fill="none"/>
<path d="M215.70,280.60 L218.92,281.26 L218.29,282.62 Z" fill="#000" stroke="none"/>
<path d="M238.30,330.30 L215.70,323.70" stroke="#000" stroke-width="0.9" fill="none"/>
<path d="M215.70,323.70 L218.98,323.88 L218.56,325.32 Z" fill="#000" stroke="none"/>
<path d="M156.40,281.40 L199.80,289.20" stroke="#000" stroke-width="0.9" fill="none"/>
<path d="M199.80,289.20 L196.52,289.37 L196.78,287.90 Z" fill="#000" stroke="none"/>
<path d="M178.60,317.40 L205.50,308.30" stroke="#000" stroke-width="0.9" fill="none"/>
<path d="M205.50,308.30 L202.71,310.04 L202.23,308.61 Z" fill="#000" stroke="none"/>
<path d="M152.00,364.50 L200.90,337.00" stroke="#000" stroke-width="0.9" fill="none"/>
<path d="M200.90,337.00 L198.48,339.22 L197.74,337.91 Z" fill="#000" stroke="none"/>
<path d="M338.00,171.00 L338.00,214.50 L341.00,216.50 L335.00,219.50 L338.00,221.00 L338.00,264.00" stroke="#000" stroke-width="1.0" fill="none"/>
<line x1="207.50" y1="239.01" x2="338.00" y2="178.20" stroke="#000" stroke-width="0.9"/>
<line x1="208.00" y1="241.38" x2="338.00" y2="180.80" stroke="#000" stroke-width="1.25"/>
<line x1="211.00" y1="243.48" x2="338.00" y2="184.30" stroke="#000" stroke-width="0.9"/>
<line x1="210.50" y1="252.22" x2="338.00" y2="192.80" stroke="#000" stroke-width="0.9"/>
<path d="M262.00,214.00 L268.00,211.00 L270.00,215.00 L264.00,218.00 Z" stroke="#000" stroke-width="0.6" fill="none"/>
<rect x="200.60" y="240.30" width="9.00" height="12.80" stroke="#000" stroke-width="1.0" fill="none"/>
<path d="M207.50,239.50 L205.50,237.50" stroke="#000" stroke-width="0.8" fill="none"/>
<line x1="200.20" y1="208.00" x2="200.20" y2="240.30" stroke="#777" stroke-width="0.7"/>
<line x1="183.00" y1="239.50" x2="200.30" y2="239.50" stroke="#444" stroke-width="0.7"/>
<line x1="183.00" y1="253.10" x2="200.30" y2="253.10" stroke="#444" stroke-width="0.7"/>
<line x1="188.00" y1="236.50" x2="188.00" y2="256.00" stroke="#000" stroke-width="0.7"/>
<line x1="186.50" y1="241.00" x2="189.50" y2="238.00" stroke="#000" stroke-width="0.7"/>
<line x1="186.50" y1="254.60" x2="189.50" y2="251.60" stroke="#000" stroke-width="0.7"/>
<text transform="translate(187.40,252.90) rotate(-90) scale(0.18880,0.12221)" x="0" y="0" font-size="40.0" font-weight="normal" fill="#1a1a1a" stroke="#1a1a1a" stroke-width="2.455" textLength="66.74" lengthAdjust="spacing" font-family="Liberation Sans">150</text>
<path d="M210.50,245.2 C210.30,238.6 217.60,238.6 217.40,245.2 M210.50,245.2 Q212.70,250 213.95,253 Q215.20,250 217.40,245.2 M217.40,245.2 C217.20,238.6 224.50,238.6 224.30,245.2 M217.40,245.2 Q219.60,250 220.85,253 Q222.10,250 224.30,245.2 M224.30,245.2 C224.10,238.6 231.40,238.6 231.20,245.2 M224.30,245.2 Q226.50,250 227.75,253 Q229.00,250 231.20,245.2 M231.20,245.2 C231.00,238.6 238.30,238.6 238.10,245.2 M231.20,245.2 Q233.40,250 234.65,253 Q235.90,250 238.10,245.2 M238.10,245.2 C237.90,238.6 245.20,238.6 245.00,245.2 M238.10,245.2 Q240.30,250 241.55,253 Q242.80,250 245.00,245.2 M245.00,245.2 C244.80,238.6 252.10,238.6 251.90,245.2 M245.00,245.2 Q247.20,250 248.45,253 Q249.70,250 251.90,245.2 M251.90,245.2 C251.70,238.6 259.00,238.6 258.80,245.2 M251.90,245.2 Q254.10,250 255.35,253 Q256.60,250 258.80,245.2 M258.80,245.2 C258.60,238.6 265.90,238.6 265.70,245.2 M258.80,245.2 Q261.00,250 262.25,253 Q263.50,250 265.70,245.2 M265.70,245.2 C265.50,238.6 272.80,238.6 272.60,245.2 M265.70,245.2 Q267.90,250 269.15,253 Q270.40,250 272.60,245.2 M272.60,245.2 C272.40,238.6 279.70,238.6 279.50,245.2 M272.60,245.2 Q274.80,250 276.05,253 Q277.30,250 279.50,245.2 M279.50,245.2 C279.30,238.6 286.60,238.6 286.40,245.2 M279.50,245.2 Q281.70,250 282.95,253 Q284.20,250 286.40,245.2 M286.40,245.2 C286.20,238.6 293.50,238.6 293.30,245.2 M286.40,245.2 Q288.60,250 289.85,253 Q291.10,250 293.30,245.2 M293.30,245.2 C293.10,238.6 300.40,238.6 300.20,245.2 M293.30,245.2 Q295.50,250 296.75,253 Q298.00,250 300.20,245.2 M300.20,245.2 C300.00,238.6 307.30,238.6 307.10,245.2 M300.20,245.2 Q302.40,250 303.65,253 Q304.90,250 307.10,245.2 M307.10,245.2 C306.90,238.6 314.20,238.6 314.00,245.2 M307.10,245.2 Q309.30,250 310.55,253 Q311.80,250 314.00,245.2 M314.00,245.2 C313.80,238.6 321.10,238.6 320.90,245.2 M314.00,245.2 Q316.20,250 317.45,253 Q318.70,250 320.90,245.2 M320.90,245.2 C320.70,238.6 328.00,238.6 327.80,245.2 M320.90,245.2 Q323.10,250 324.35,253 Q325.60,250 327.80,245.2 M327.80,245.2 C327.60,238.6 334.90,238.6 334.70,245.2 M327.80,245.2 Q330.00,250 331.25,253 Q332.50,250 334.70,245.2 M334.70,245.2 C334.50,238.6 338.20,238.6 338.00,245.2 M334.70,245.2 Q336.90,250 336.35,253 Q335.80,250 338.00,245.2" stroke="#8a8a8a" stroke-width="0.75" fill="none"/>
<line x1="210.50" y1="245.20" x2="338.00" y2="245.20" stroke="#8a8a8a" stroke-width="1.1"/>
<line x1="200.60" y1="253.20" x2="338.00" y2="253.20" stroke="#000" stroke-width="1.3"/>
<line x1="217.50" y1="257.40" x2="338.00" y2="257.40" stroke="#000" stroke-width="1.3"/>
<line x1="217.50" y1="263.40" x2="338.00" y2="263.40" stroke="#000" stroke-width="1.0"/>
<path d="M263.00,253.30 L266.00,257.40 L269.00,253.30" stroke="#000" stroke-width="0.7" fill="none"/>
<path d="M306.00,253.30 L309.00,257.40 L312.00,253.30" stroke="#000" stroke-width="0.7" fill="none"/>
<path d="M217.50,265.00 L225.00,253.30" stroke="#000" stroke-width="0.8" fill="none"/>
<path d="M219.00,253.30 L222.00,257.40 L225.00,253.30" stroke="#000" stroke-width="0.7" fill="none"/>
<line x1="200.40" y1="240.30" x2="200.40" y2="356.00" stroke="#000" stroke-width="1.3"/>
<line x1="202.40" y1="253.10" x2="202.40" y2="356.00" stroke="#000" stroke-width="0.9"/>
<line x1="205.60" y1="253.10" x2="205.60" y2="356.00" stroke="#000" stroke-width="0.7"/>
<rect x="206.60" y="253.10" width="3.20" height="102.90" stroke="none" stroke-width="0" fill="#858585"/>
<line x1="209.90" y1="253.10" x2="209.90" y2="356.00" stroke="#000" stroke-width="0.9"/>
<line x1="217.50" y1="253.10" x2="217.50" y2="356.00" stroke="#000" stroke-width="1.3"/>
<path d="M210.6,258.50 a3,1.35 0 1 0 6,0 a3,1.35 0 1 0 -6,0 M210.6,261.15 a3,1.35 0 1 0 6,0 a3,1.35 0 1 0 -6,0 M210.6,263.80 a3,1.35 0 1 0 6,0 a3,1.35 0 1 0 -6,0 M210.6,266.45 a3,1.35 0 1 0 6,0 a3,1.35 0 1 0 -6,0 M210.6,269.10 a3,1.35 0 1 0 6,0 a3,1.35 0 1 0 -6,0 M210.6,271.75 a3,1.35 0 1 0 6,0 a3,1.35 0 1 0 -6,0 M210.6,274.40 a3,1.35 0 1 0 6,0 a3,1.35 0 1 0 -6,0 M210.6,277.05 a3,1.35 0 1 0 6,0 a3,1.35 0 1 0 -6,0 M210.6,279.70 a3,1.35 0 1 0 6,0 a3,1.35 0 1 0 -6,0 M210.6,282.35 a3,1.35 0 1 0 6,0 a3,1.35 0 1 0 -6,0 M210.6,285.00 a3,1.35 0 1 0 6,0 a3,1.35 0 1 0 -6,0 M210.6,287.65 a3,1.35 0 1 0 6,0 a3,1.35 0 1 0 -6,0 M210.6,290.30 a3,1.35 0 1 0 6,0 a3,1.35 0 1 0 -6,0 M210.6,292.95 a3,1.35 0 1 0 6,0 a3,1.35 0 1 0 -6,0 M210.6,295.60 a3,1.35 0 1 0 6,0 a3,1.35 0 1 0 -6,0 M210.6,298.25 a3,1.35 0 1 0 6,0 a3,1.35 0 1 0 -6,0 M210.6,300.90 a3,1.35 0 1 0 6,0 a3,1.35 0 1 0 -6,0 M210.6,303.55 a3,1.35 0 1 0 6,0 a3,1.35 0 1 0 -6,0 M210.6,306.20 a3,1.35 0 1 0 6,0 a3,1.35 0 1 0 -6,0 M210.6,308.85 a3,1.35 0 1 0 6,0 a3,1.35 0 1 0 -6,0 M210.6,311.50 a3,1.35 0 1 0 6,0 a3,1.35 0 1 0 -6,0 M210.6,314.15 a3,1.35 0 1 0 6,0 a3,1.35 0 1 0 -6,0 M210.6,316.80 a3,1.35 0 1 0 6,0 a3,1.35 0 1 0 -6,0 M210.6,319.45 a3,1.35 0 1 0 6,0 a3,1.35 0 1 0 -6,0 M210.6,322.10 a3,1.35 0 1 0 6,0 a3,1.35 0 1 0 -6,0 M210.6,324.75 a3,1.35 0 1 0 6,0 a3,1.35 0 1 0 -6,0 M210.6,327.40 a3,1.35 0 1 0 6,0 a3,1.35 0 1 0 -6,0 M210.6,330.05 a3,1.35 0 1 0 6,0 a3,1.35 0 1 0 -6,0 M210.6,332.70 a3,1.35 0 1 0 6,0 a3,1.35 0 1 0 -6,0 M210.6,335.35 a3,1.35 0 1 0 6,0 a3,1.35 0 1 0 -6,0 M210.6,338.00 a3,1.35 0 1 0 6,0 a3,1.35 0 1 0 -6,0 M210.6,340.65 a3,1.35 0 1 0 6,0 a3,1.35 0 1 0 -6,0 M210.6,343.30 a3,1.35 0 1 0 6,0 a3,1.35 0 1 0 -6,0 M210.6,345.95 a3,1.35 0 1 0 6,0 a3,1.35 0 1 0 -6,0 M210.6,348.60 a3,1.35 0 1 0 6,0 a3,1.35 0 1 0 -6,0 M210.6,351.25 a3,1.35 0 1 0 6,0 a3,1.35 0 1 0 -6,0" stroke="#7a7a7a" stroke-width="0.7" fill="none"/>
<line x1="210.40" y1="344.00" x2="217.50" y2="344.00" stroke="#222" stroke-width="1.0"/>
<rect x="202.50" y="253.30" width="3.70" height="4.70" stroke="#000" stroke-width="0.6" fill="none"/>
<line x1="205.50" y1="355.00" x2="208.50" y2="359.50" stroke="#000" stroke-width="0.8"/>
<line x1="169.00" y1="354.70" x2="250.70" y2="354.70" stroke="#808080" stroke-width="0.8"/>
<rect x="528.40" y="151.40" width="62.00" height="26.60" stroke="#000" stroke-width="1.3" fill="none"/>
<text transform="translate(531.60,161.00) scale(0.16289,0.24441)" x="0" y="0" font-size="40.0" font-weight="normal" fill="#1a1a1a" stroke="#1a1a1a" stroke-width="1.637" textLength="346.25" lengthAdjust="spacing" font-family="Liberation Sans">GUTTER NOTE:</text>
<text transform="translate(531.00,168.50) scale(0.11274,0.17458)" x="0" y="0" font-size="40.0" font-weight="normal" fill="#1a1a1a" stroke="#1a1a1a" stroke-width="2.291" textLength="505.57" lengthAdjust="spacing" font-family="Liberation Sans">CONFIRM NOMINATED</text>
<text transform="translate(531.00,176.20) scale(0.11253,0.17109)" x="0" y="0" font-size="40.0" font-weight="normal" fill="#1a1a1a" stroke="#1a1a1a" stroke-width="2.338" textLength="506.52" lengthAdjust="spacing" font-family="Liberation Sans">DIMENSIONS ON SITE.</text>
<text transform="translate(437.20,199.60) scale(0.12494,0.16411)" x="0" y="0" font-size="40.0" font-weight="normal" fill="#1a1a1a" stroke="#1a1a1a" stroke-width="2.437" textLength="597.86" lengthAdjust="spacing" font-family="Liberation Sans">GUTTER BRACE/STRAP AT</text>
<text transform="translate(444.50,207.50) scale(0.11533,0.16585)" x="0" y="0" font-size="40.0" font-weight="normal" fill="#1a1a1a" stroke="#1a1a1a" stroke-width="2.412" textLength="523.71" lengthAdjust="spacing" font-family="Liberation Sans">NOMINATED CENTRES.</text>
<text transform="translate(528.40,196.60) scale(0.11730,0.17458)" x="0" y="0" font-size="40.0" font-weight="normal" fill="#1a1a1a" stroke="#1a1a1a" stroke-width="2.291" textLength="499.59" lengthAdjust="spacing" font-family="Liberation Sans">FIX GUTTER TO ROOF</text>
<text transform="translate(522.00,204.40) scale(0.12229,0.17458)" x="0" y="0" font-size="40.0" font-weight="normal" fill="#1a1a1a" stroke="#1a1a1a" stroke-width="2.291" textLength="580.60" lengthAdjust="spacing" font-family="Liberation Sans">BATTEN WITH APPROVED</text>
<text transform="translate(541.00,212.40) scale(0.10874,0.17458)" x="0" y="0" font-size="40.0" font-weight="normal" fill="#1a1a1a" stroke="#1a1a1a" stroke-width="2.291" textLength="312.66" lengthAdjust="spacing" font-family="Liberation Sans">CONNECTION</text>
<text transform="translate(615.60,197.40) scale(0.11141,0.17458)" x="0" y="0" font-size="40.0" font-weight="normal" fill="#1a1a1a" stroke="#1a1a1a" stroke-width="2.291" textLength="299.78" lengthAdjust="spacing" font-family="Liberation Sans">COLORBOND</text>
<text transform="translate(607.00,205.00) scale(0.11364,0.17458)" x="0" y="0" font-size="40.0" font-weight="normal" fill="#1a1a1a" stroke="#1a1a1a" stroke-width="2.291" textLength="448.77" lengthAdjust="spacing" font-family="Liberation Sans">CUSTOMORB ROOF</text>
<text transform="translate(584.00,228.40) scale(0.11146,0.17458)" x="0" y="0" font-size="40.0" font-weight="normal" fill="#1a1a1a" stroke="#1a1a1a" stroke-width="2.291" textLength="322.99" lengthAdjust="spacing" font-family="Liberation Sans">TIMBER ROOF</text>
<text transform="translate(591.00,236.00) scale(0.12776,0.17458)" x="0" y="0" font-size="40.0" font-weight="normal" fill="#1a1a1a" stroke="#1a1a1a" stroke-width="2.291" textLength="180.03" lengthAdjust="spacing" font-family="Liberation Sans">BATTEN</text>
<text transform="translate(655.50,236.80) scale(0.10991,0.16760)" x="0" y="0" font-size="40.0" font-weight="normal" fill="#1a1a1a" stroke="#1a1a1a" stroke-width="2.387" textLength="322.99" lengthAdjust="spacing" font-family="Liberation Sans">TIMBER ROOF</text>
<text transform="translate(651.50,244.50) scale(0.12023,0.17458)" x="0" y="0" font-size="40.0" font-weight="normal" fill="#1a1a1a" stroke="#1a1a1a" stroke-width="2.291" textLength="361.81" lengthAdjust="spacing" font-family="Liberation Sans">TRUSS SYSTEM</text>
<text transform="translate(435.50,234.60) scale(0.11328,0.18855)" x="0" y="0" font-size="40.0" font-weight="normal" fill="#1a1a1a" stroke="#1a1a1a" stroke-width="2.121" textLength="748.62" lengthAdjust="spacing" font-family="Liberation Sans">CUSTOM PRESSED COLORBOND</text>
<text transform="translate(435.50,242.30) scale(0.12064,0.18156)" x="0" y="0" font-size="40.0" font-weight="normal" fill="#1a1a1a" stroke="#1a1a1a" stroke-width="2.203" textLength="702.95" lengthAdjust="spacing" font-family="Liberation Sans">GUTTER/FLASHING ON TOP OF</text>
<text transform="translate(455.30,250.50) scale(0.12844,0.17807)" x="0" y="0" font-size="40.0" font-weight="normal" fill="#1a1a1a" stroke="#1a1a1a" stroke-width="2.246" textLength="363.60" lengthAdjust="spacing" font-family="Liberation Sans">PARAPET WALL.</text>
<text transform="translate(444.00,258.40) scale(0.11729,0.17982)" x="0" y="0" font-size="40.0" font-weight="normal" fill="#1a1a1a" stroke="#1a1a1a" stroke-width="2.224" textLength="585.71" lengthAdjust="spacing" font-family="Liberation Sans">FRONT EDGE OF GUTTER</text>
<text transform="translate(446.80,266.40) scale(0.12085,0.18156)" x="0" y="0" font-size="40.0" font-weight="normal" fill="#1a1a1a" stroke="#1a1a1a" stroke-width="2.203" textLength="526.28" lengthAdjust="spacing" font-family="Liberation Sans">TO FINISH FLUSH WITH</text>
<text transform="translate(455.30,274.00) scale(0.12196,0.18156)" x="0" y="0" font-size="40.0" font-weight="normal" fill="#1a1a1a" stroke="#1a1a1a" stroke-width="2.203" textLength="374.71" lengthAdjust="spacing" font-family="Liberation Sans">FRONT OF WALL</text>
<text transform="translate(438.40,298.00) scale(0.12512,0.18156)" x="0" y="0" font-size="40.0" font-weight="normal" fill="#1a1a1a" stroke="#1a1a1a" stroke-width="2.203" textLength="620.19" lengthAdjust="spacing" font-family="Liberation Sans">FIX GUTTER TO WALL WITH</text>
<text transform="translate(444.90,306.00) scale(0.11863,0.18506)" x="0" y="0" font-size="40.0" font-weight="normal" fill="#1a1a1a" stroke="#1a1a1a" stroke-width="2.162" textLength="547.06" lengthAdjust="spacing" font-family="Liberation Sans">APPROVED TEK SCREW</text>
<text transform="translate(459.50,314.50) scale(0.11130,0.18506)" x="0" y="0" font-size="40.0" font-weight="normal" fill="#1a1a1a" stroke="#1a1a1a" stroke-width="2.162" textLength="312.66" lengthAdjust="spacing" font-family="Liberation Sans">CONNECTION</text>
<text transform="translate(465.20,332.00) scale(0.12071,0.18506)" x="0" y="0" font-size="40.0" font-weight="normal" fill="#1a1a1a" stroke="#1a1a1a" stroke-width="2.162" textLength="193.86" lengthAdjust="spacing" font-family="Liberation Sans">RAIN LIP</text>
<text transform="translate(461.80,355.50) scale(0.11609,0.18506)" x="0" y="0" font-size="40.0" font-weight="normal" fill="#1a1a1a" stroke="#1a1a1a" stroke-width="2.162" textLength="301.49" lengthAdjust="spacing" font-family="Liberation Sans">CUSTOMORB</text>
<text transform="translate(461.00,363.00) scale(0.11416,0.18156)" x="0" y="0" font-size="40.0" font-weight="normal" fill="#1a1a1a" stroke="#1a1a1a" stroke-width="2.203" textLength="313.59" lengthAdjust="spacing" font-family="Liberation Sans">SHEETING TO</text>
<text transform="translate(456.70,370.70) scale(0.12633,0.18506)" x="0" y="0" font-size="40.0" font-weight="normal" fill="#1a1a1a" stroke="#1a1a1a" stroke-width="2.162" textLength="350.68" lengthAdjust="spacing" font-family="Liberation Sans">PARAPET WALL</text>
<text transform="translate(600.25,371.25) scale(0.12293,0.17458)" x="0" y="0" font-size="40.0" font-weight="normal" fill="#1a1a1a" stroke="#1a1a1a" stroke-width="2.291" textLength="423.01" lengthAdjust="spacing" font-family="Liberation Sans">STEEL STUD WALL</text>
<text transform="translate(614.00,379.00) scale(0.11541,0.16061)" x="0" y="0" font-size="40.0" font-weight="normal" fill="#1a1a1a" stroke="#1a1a1a" stroke-width="2.490" textLength="214.46" lengthAdjust="spacing" font-family="Liberation Sans">FRAMING</text>
<path d="M501.40,205.60 L554.40,240.25 L565.00,267.80" stroke="#000" stroke-width="0.9" fill="none"/>
<path d="M565.00,267.80 L563.15,265.08 L564.55,264.54 Z" fill="#000" stroke="none"/>
<path d="M548.70,213.40 L548.70,225.40 L581.20,262.10" stroke="#000" stroke-width="0.9" fill="none"/>
<path d="M581.20,262.10 L578.52,260.20 L579.64,259.21 Z" fill="#000" stroke="none"/>
<path d="M600.20,238.00 L590.90,256.60" stroke="#000" stroke-width="0.9" fill="none"/>
<path d="M590.90,256.60 L591.66,253.40 L593.00,254.07 Z" fill="#000" stroke="none"/>
<path d="M635.00,208.60 L626.10,241.70" stroke="#000" stroke-width="0.9" fill="none"/>
<path d="M626.10,241.70 L626.21,238.42 L627.66,238.80 Z" fill="#000" stroke="none"/>
<path d="M663.50,247.00 L623.00,267.00" stroke="#000" stroke-width="0.9" fill="none"/>
<path d="M623.00,267.00 L625.54,264.91 L626.20,266.26 Z" fill="#000" stroke="none"/>
<path d="M502.00,271.60 L553.40,279.60" stroke="#000" stroke-width="0.9" fill="none"/>
<path d="M553.40,279.60 L550.12,279.85 L550.35,278.37 Z" fill="#000" stroke="none"/>
<path d="M510.40,301.30 L533.80,297.10 L553.40,304.50" stroke="#000" stroke-width="0.9" fill="none"/>
<path d="M553.40,304.50 L550.14,304.07 L550.67,302.67 Z" fill="#000" stroke="none"/>
<path d="M491.20,330.00 L552.40,310.30" stroke="#000" stroke-width="0.9" fill="none"/>
<path d="M552.40,310.30 L549.58,311.99 L549.12,310.57 Z" fill="#000" stroke="none"/>
<path d="M497.70,355.00 L556.70,339.50" stroke="#000" stroke-width="0.9" fill="none"/>
<path d="M556.70,339.50 L553.80,341.04 L553.41,339.59 Z" fill="#000" stroke="none"/>
<path d="M609.40,363.75 L581.40,337.00" stroke="#000" stroke-width="0.9" fill="none"/>
<path d="M581.40,337.00 L584.23,338.67 L583.20,339.75 Z" fill="#000" stroke="none"/>
<path d="M641.30,228.50 L641.30,268.50 L644.00,270.00 L638.50,272.00 L641.30,273.50 L641.30,323.00" stroke="#000" stroke-width="1.0" fill="none"/>
<line x1="569.30" y1="268.60" x2="641.30" y2="235.05" stroke="#000" stroke-width="0.9"/>
<line x1="569.80" y1="270.90" x2="641.30" y2="237.58" stroke="#000" stroke-width="1.6"/>
<path d="M569.30,268.60 L568.60,270.20 L569.80,270.90" stroke="#000" stroke-width="0.8" fill="none"/>
<line x1="593.40" y1="268.30" x2="641.30" y2="245.98" stroke="#000" stroke-width="0.9"/>
<line x1="573.60" y1="296.70" x2="641.30" y2="265.15" stroke="#000" stroke-width="0.9"/>
<line x1="600.00" y1="258.20" x2="605.00" y2="256.17" stroke="#333" stroke-width="1.2"/>
<line x1="609.00" y1="254.01" x2="614.00" y2="251.98" stroke="#333" stroke-width="1.2"/>
<line x1="618.00" y1="249.81" x2="623.00" y2="247.78" stroke="#333" stroke-width="1.2"/>
<line x1="627.00" y1="245.62" x2="632.00" y2="243.59" stroke="#333" stroke-width="1.2"/>
<line x1="636.00" y1="241.42" x2="641.00" y2="239.39" stroke="#333" stroke-width="1.2"/>
<path d="M576.00,271.20 L579.50,276.50 L588.50,266.50" stroke="#000" stroke-width="0.8" fill="none"/>
<line x1="577.50" y1="266.50" x2="590.50" y2="279.50" stroke="#000" stroke-width="0.7"/>
<line x1="574.00" y1="277.60" x2="595.00" y2="271.50" stroke="#000" stroke-width="0.8"/>
<line x1="566.40" y1="249.40" x2="585.50" y2="241.00" stroke="#000" stroke-width="0.8"/>
<line x1="585.50" y1="241.00" x2="591.80" y2="256.50" stroke="#000" stroke-width="0.7"/>
<line x1="566.40" y1="249.40" x2="572.00" y2="261.00" stroke="#000" stroke-width="0.7"/>
<line x1="564.60" y1="251.20" x2="568.20" y2="247.60" stroke="#000" stroke-width="0.7"/>
<line x1="583.70" y1="242.80" x2="587.30" y2="239.20" stroke="#000" stroke-width="0.7"/>
<text transform="translate(575.00,243.30) rotate(-24) translate(-4.25,1.90) scale(0.10953,0.13268)" x="0" y="0" font-size="40.0" font-weight="normal" fill="#1a1a1a" stroke="#1a1a1a" stroke-width="2.638" textLength="77.60" lengthAdjust="spacing" font-family="Liberation Sans">100</text>
<line x1="552.50" y1="259.30" x2="574.00" y2="259.30" stroke="#000" stroke-width="0.8"/>
<line x1="555.20" y1="256.00" x2="555.20" y2="270.60" stroke="#555" stroke-width="0.6"/>
<line x1="572.80" y1="256.00" x2="572.80" y2="270.60" stroke="#555" stroke-width="0.6"/>
<line x1="553.40" y1="261.10" x2="557.00" y2="257.50" stroke="#000" stroke-width="0.7"/>
<line x1="571.00" y1="261.10" x2="574.60" y2="257.50" stroke="#000" stroke-width="0.7"/>
<text transform="translate(564.00,255.30) rotate(-24) translate(-3.00,1.90) scale(0.11597,0.13268)" x="0" y="0" font-size="40.0" font-weight="normal" fill="#1a1a1a" stroke="#1a1a1a" stroke-width="2.638" textLength="51.74" lengthAdjust="spacing" font-family="Liberation Sans">80</text>
<line x1="585.30" y1="267.00" x2="592.80" y2="283.20" stroke="#000" stroke-width="0.8"/>
<text transform="translate(589.50,277.60) rotate(-65) translate(-3.50,1.90) scale(0.13530,0.13268)" x="0" y="0" font-size="40.0" font-weight="normal" fill="#1a1a1a" stroke="#1a1a1a" stroke-width="2.638" textLength="51.74" lengthAdjust="spacing" font-family="Liberation Sans">50</text>
<line x1="590.00" y1="282.00" x2="594.00" y2="284.50" stroke="#000" stroke-width="0.7"/>
<line x1="555.20" y1="270.20" x2="555.20" y2="298.00" stroke="#000" stroke-width="1.7"/>
<line x1="555.30" y1="297.00" x2="555.30" y2="355.00" stroke="#000" stroke-width="1.0"/>
<line x1="573.00" y1="270.60" x2="573.00" y2="297.20" stroke="#000" stroke-width="1.3"/>
<line x1="555.20" y1="270.60" x2="573.00" y2="270.60" stroke="#000" stroke-width="0.7"/>
<line x1="555.20" y1="297.10" x2="641.30" y2="297.10" stroke="#000" stroke-width="0.9"/>
<line x1="551.80" y1="273.20" x2="557.50" y2="273.20" stroke="#000" stroke-width="0.6"/>
<line x1="525.90" y1="270.10" x2="555.20" y2="270.10" stroke="#666" stroke-width="0.7"/>
<line x1="529.60" y1="266.40" x2="529.60" y2="311.90" stroke="#000" stroke-width="0.8"/>
<line x1="540.70" y1="266.40" x2="540.70" y2="299.50" stroke="#000" stroke-width="0.8"/>
<line x1="525.90" y1="308.20" x2="553.40" y2="308.20" stroke="#777" stroke-width="0.7"/>
<line x1="538.60" y1="297.10" x2="555.20" y2="297.10" stroke="#777" stroke-width="0.7"/>
<line x1="527.80" y1="271.90" x2="531.40" y2="268.30" stroke="#000" stroke-width="0.7"/>
<line x1="527.80" y1="310.00" x2="531.40" y2="306.40" stroke="#000" stroke-width="0.7"/>
<line x1="538.90" y1="271.90" x2="542.50" y2="268.30" stroke="#000" stroke-width="0.7"/>
<line x1="538.90" y1="298.90" x2="542.50" y2="295.30" stroke="#000" stroke-width="0.7"/>
<text transform="translate(528.60,293.50) rotate(-90) scale(0.13273,0.11872)" x="0" y="0" font-size="40.0" font-weight="normal" fill="#1a1a1a" stroke="#1a1a1a" stroke-width="3.369" textLength="77.60" lengthAdjust="spacing" font-family="Liberation Sans">200</text>
<text transform="translate(540.20,287.80) rotate(-90) scale(0.11855,0.11872)" x="0" y="0" font-size="40.0" font-weight="normal" fill="#1a1a1a" stroke="#1a1a1a" stroke-width="3.369" textLength="77.60" lengthAdjust="spacing" font-family="Liberation Sans">150</text>
<line x1="565.10" y1="273.80" x2="565.10" y2="297.00" stroke="#000" stroke-width="0.8"/>
<line x1="560.00" y1="277.50" x2="570.00" y2="277.50" stroke="#000" stroke-width="0.6"/>
<line x1="563.30" y1="279.30" x2="566.90" y2="275.70" stroke="#000" stroke-width="0.7"/>
<text transform="translate(564.60,291.30) rotate(-90) scale(0.11211,0.11522)" x="0" y="0" font-size="40.0" font-weight="normal" fill="#1a1a1a" stroke="#1a1a1a" stroke-width="3.472" textLength="77.60" lengthAdjust="spacing" font-family="Liberation Sans">100</text>
<line x1="573.60" y1="279.70" x2="641.30" y2="279.70" stroke="#222" stroke-width="0.9"/>
<line x1="587.00" y1="305.40" x2="641.30" y2="305.40" stroke="#666" stroke-width="1.3"/>
<line x1="591.00" y1="307.30" x2="641.30" y2="307.30" stroke="#000" stroke-width="0.9"/>
<line x1="591.00" y1="317.20" x2="641.30" y2="317.20" stroke="#000" stroke-width="0.9"/>
<path d="M594.40,297.10 L599.30,305.00 L605.00,297.10" stroke="#000" stroke-width="0.8" fill="none"/>
<path d="M589.5,321 Q589.5,307.5 600,306.5" stroke="#000" stroke-width="0.8" fill="none"/>
<path d="M591.5,321 Q591.5,309.8 600,308.6" stroke="#555" stroke-width="0.6" fill="none"/>
<line x1="573.40" y1="297.10" x2="573.40" y2="306.00" stroke="#000" stroke-width="0.9"/>
<line x1="573.40" y1="306.00" x2="587.50" y2="306.00" stroke="#000" stroke-width="0.7"/>
<line x1="559.20" y1="297.10" x2="559.20" y2="355.00" stroke="#000" stroke-width="0.9"/>
<line x1="566.3" y1="297.1" x2="566.3" y2="357" stroke="#222" stroke-width="0.9" stroke-dasharray="2,1.3"/>
<line x1="568.30" y1="297.10" x2="568.30" y2="357.00" stroke="#000" stroke-width="0.8"/>
<line x1="570.50" y1="297.10" x2="570.50" y2="355.00" stroke="#000" stroke-width="0.8"/>
<line x1="573.20" y1="297.10" x2="573.20" y2="355.00" stroke="#000" stroke-width="1.0"/>
<line x1="587.60" y1="306.00" x2="587.60" y2="355.00" stroke="#000" stroke-width="0.9"/>
<line x1="589.50" y1="309.00" x2="589.50" y2="355.00" stroke="#000" stroke-width="0.7"/>
<line x1="566.30" y1="357.00" x2="569.50" y2="359.00" stroke="#000" stroke-width="0.7"/>
<line x1="559.20" y1="301.50" x2="566.30" y2="303.50" stroke="#333" stroke-width="0.6"/>
<line x1="559.20" y1="305.00" x2="566.30" y2="307.00" stroke="#333" stroke-width="0.6"/>
<line x1="559.20" y1="308.50" x2="566.30" y2="310.50" stroke="#333" stroke-width="0.6"/>
<line x1="575.00" y1="300.20" x2="641.30" y2="300.20" stroke="#444" stroke-width="0.6"/>
<line x1="525.00" y1="354.90" x2="611.70" y2="354.90" stroke="#808080" stroke-width="0.8"/>
</svg></body></html>
